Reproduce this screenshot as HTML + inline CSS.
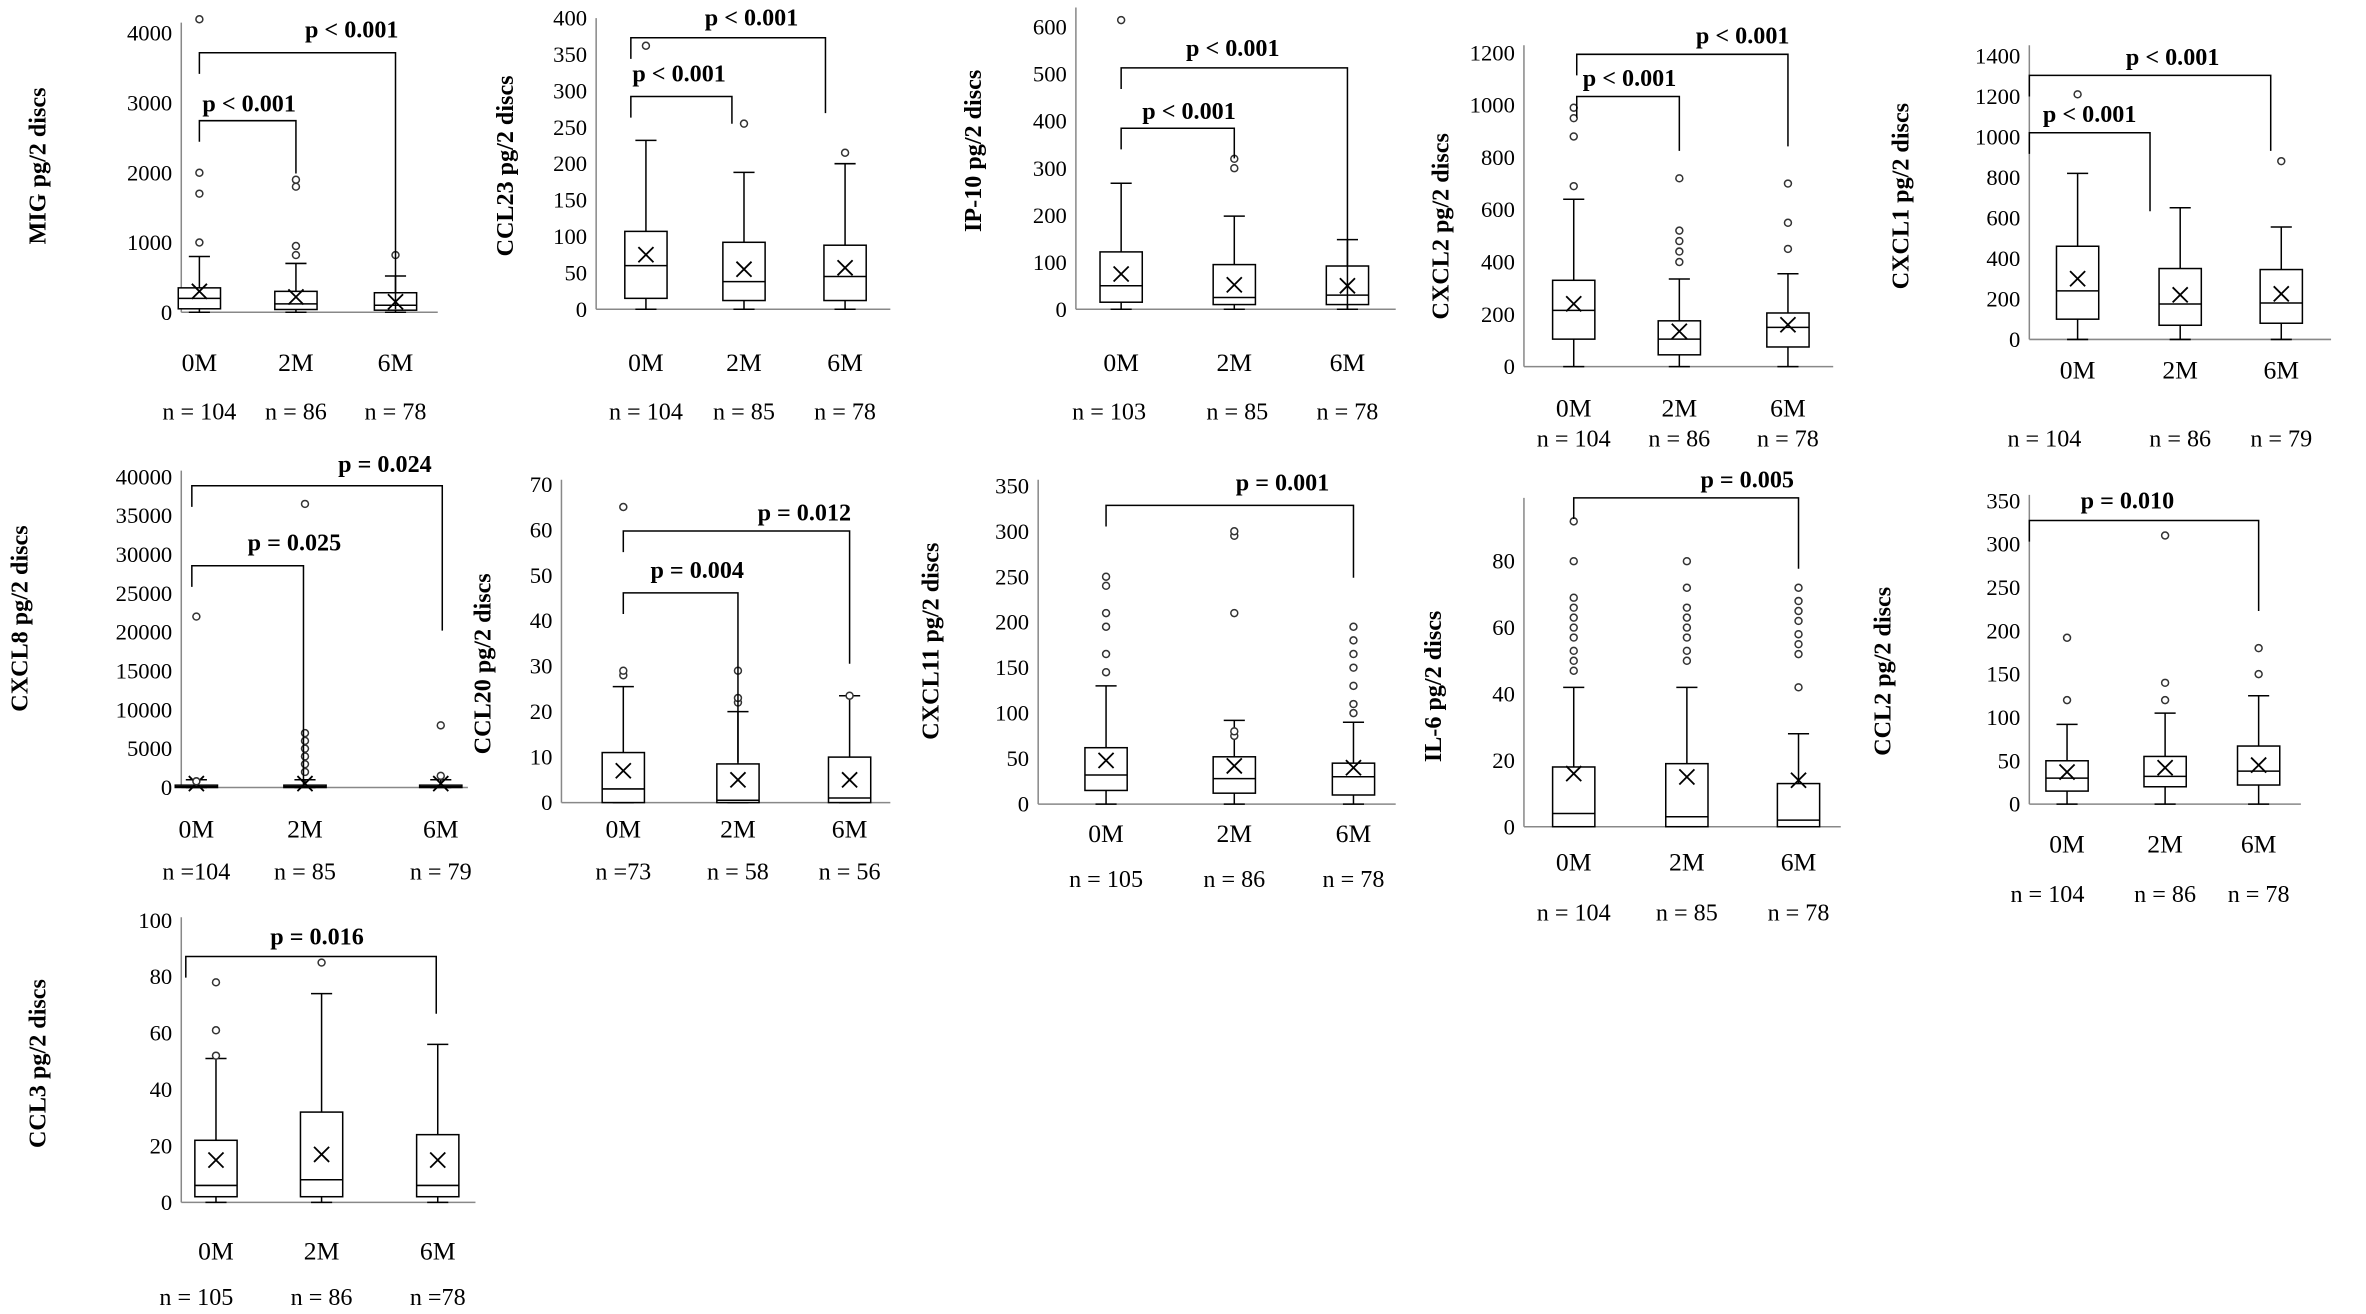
<!DOCTYPE html>
<html><head><meta charset="utf-8"><style>
html,body{margin:0;padding:0;background:#fff;}
svg{display:block;}
text{font-family:"Liberation Serif",serif;fill:#000;}
</style></head><body>
<svg id="s" width="2366" height="1314" viewBox="0 0 1568 871" xmlns="http://www.w3.org/2000/svg"></svg>
<script>
const S=document.getElementById('s');let h='';
function P(o){
 const Y=v=>o.y0-(o.y0-o.yt)*v/o.max;
 // axes
 h+=`<line x1="${o.ax}" y1="${o.top}" x2="${o.ax}" y2="${o.y0}" stroke="#888" stroke-width="1"/>`;
 h+=`<line x1="${o.ax}" y1="${o.y0}" x2="${o.axEnd}" y2="${o.y0}" stroke="#888" stroke-width="1"/>`;
 for(let v=0;v<=o.max+1e-9;v+=o.step){h+=`<text x="${o.ax-6}" y="${Y(v)+5}" font-size="15" text-anchor="end">${v}</text>`;}
 h+=`<text transform="translate(${o.lx},${o.ly}) rotate(-90)" font-size="16" font-weight="bold" text-anchor="middle">${o.label}</text>`;
 const names=['0M','2M','6M'];
 o.b.forEach((b,i)=>{const c=o.c[i],w=14;
  h+=`<line x1="${c}" y1="${Y(b[3])}" x2="${c}" y2="${Y(b[4])}" stroke="#000"/>`;
  h+=`<line x1="${c-7}" y1="${Y(b[4])}" x2="${c+7}" y2="${Y(b[4])}" stroke="#000"/>`;
  h+=`<line x1="${c-7}" y1="${Y(b[3])}" x2="${c+7}" y2="${Y(b[3])}" stroke="#000"/>`;
  h+=`<rect x="${c-w}" y="${Y(b[2])}" width="${2*w}" height="${Math.max(1,Y(b[0])-Y(b[2]))}" fill="#fff" stroke="#000"/>`;
  h+=`<line x1="${c-w}" y1="${Y(b[1])}" x2="${c+w}" y2="${Y(b[1])}" stroke="#000"/>`;
  const m=Y(b[5]);h+=`<path d="M${c-5} ${m-5}L${c+5} ${m+5}M${c+5} ${m-5}L${c-5} ${m+5}" stroke="#000" stroke-width="1.2"/>`;
  (b[6]||[]).forEach(v=>{h+=`<circle cx="${c}" cy="${Y(v)}" r="2.3" fill="#fff" stroke="#333" stroke-width="1"/>`;});
  h+=`<text x="${c}" y="${o.cy}" font-size="17" text-anchor="middle">${names[i]}</text>`;
  h+=`<text x="${o.nx?o.nx[i]:c}" y="${o.ny}" font-size="16" text-anchor="middle">${o.n[i]}</text>`;
 });
 o.br.forEach(r=>{h+=`<path d="M${r[0]} ${r[3]+14}V${r[3]}H${r[1]}V${r[2]}" fill="none" stroke="#000"/>`;
  h+=`<text x="${r[5]}" y="${r[4]}" font-size="16" font-weight="bold" text-anchor="middle">${r[6]}</text>`;});
}
// br: [x1,x2,dropY,topY,textY,textX,text]
P({ax:120,top:15,y0:207,yt:22,max:4000,step:1000,axEnd:290,c:[132,196,262],label:'MIG pg/2 discs',lx:30,ly:110,cy:246,ny:278,
 n:['n = 104','n = 86','n = 78'],
 b:[[50,200,350,0,800,300,[1000,1700,2000,4200]],[40,120,300,0,700,220,[820,950,1800,1900]],[30,100,280,0,520,150,[820]]],
 br:[[132,196,115,80,74,165,'p &lt; 0.001'],[132,262,205,35,25,233,'p &lt; 0.001']]});
P({ax:395,top:12,y0:205,yt:12,max:400,step:50,axEnd:590,c:[428,493,560],label:'CCL23 pg/2 discs',lx:340,ly:110,cy:246,ny:278,
 n:['n = 104','n = 85','n = 78'],
 b:[[15,60,107,0,232,75,[362]],[12,38,92,0,188,55,[255]],[12,45,88,0,200,57,[215]]],
 br:[[418,485,82,64,54,450,'p &lt; 0.001'],[418,547,75,25,17,498,'p &lt; 0.001']]});
P({ax:713,top:5,y0:205,yt:18,max:600,step:100,axEnd:925,c:[743,818,893],label:'IP-10 pg/2 discs',lx:650,ly:100,cy:246,ny:278,
 nx:[735,820,893],n:['n = 103','n = 85','n = 78'],
 b:[[15,50,122,0,268,75,[615]],[10,25,95,0,198,52,[300,320]],[10,30,92,0,148,50,[]]],
 br:[[743,818,105,85,79,788,'p &lt; 0.001'],[743,893,205,45,37,817,'p &lt; 0.001']]});
P({ax:1010,top:30,y0:243,yt:35,max:1200,step:200,axEnd:1215,c:[1043,1113,1185],label:'CXCL2 pg/2 discs',lx:960,ly:150,cy:276,ny:296,
 n:['n = 104','n = 86','n = 78'],
 b:[[105,215,330,0,640,240,[690,880,950,990]],[45,105,175,0,335,135,[400,440,480,520,720]],[75,150,205,0,355,160,[450,550,700]]],
 br:[[1045,1113,100,64,57,1080,'p &lt; 0.001'],[1045,1185,97,36,29,1155,'p &lt; 0.001']]});
P({ax:1345,top:30,y0:225,yt:37,max:1400,step:200,axEnd:1545,c:[1377,1445,1512],label:'CXCL1 pg/2 discs',lx:1265,ly:130,cy:251,ny:296,
 nx:[1355,1445,1512],n:['n = 104','n = 86','n = 79'],
 b:[[100,240,460,0,820,300,[1210]],[70,175,350,0,650,220,[]],[80,180,345,0,555,225,[880]]],
 br:[[1345,1425,140,88,81,1385,'p &lt; 0.001'],[1345,1505,100,50,43,1440,'p &lt; 0.001']]});
P({ax:120,top:312,y0:522,yt:316,max:40000,step:5000,axEnd:310,c:[130,202,292],label:'CXCL8 pg/2 discs',lx:18,ly:410,cy:555,ny:583,
 n:['n =104','n = 85','n = 79'],
 b:[[0,100,300,0,1000,500,[800,22000]],[0,100,300,0,1000,500,[2000,3000,4000,5000,6000,7000,36500]],[0,100,300,0,1000,500,[1500,8000]]],
 br:[[127,201,520,375,365,195,'p = 0.025'],[127,293,418,322,313,255,'p = 0.024']]});
P({ax:372,top:318,y0:532,yt:321,max:70,step:10,axEnd:590,c:[413,489,563],label:'CCL20 pg/2 discs',lx:325,ly:440,cy:555,ny:583,
 n:['n =73','n = 58','n = 56'],
 b:[[0,3,11,0,25.5,7,[28,29,65]],[0,0.5,8.5,0,20,5,[22,23,29]],[0,1,10,0,23.5,5,[23.5]]],
 br:[[413,489,505,393,383,462,'p = 0.004'],[413,563,440,352,345,533,'p = 0.012']]});
P({ax:688,top:318,y0:533,yt:322,max:350,step:50,axEnd:925,c:[733,818,897],label:'CXCL11 pg/2 discs',lx:622,ly:425,cy:558,ny:588,
 n:['n = 105','n =  86','n = 78'],
 b:[[15,32,62,0,130,48,[145,165,195,210,240,250]],[12,28,52,0,92,42,[75,80,210,295,300]],[10,30,45,0,90,40,[100,110,130,150,165,180,195]]],
 br:[[733,897,383,335,325,850,'p = 0.001']]});
P({ax:1010,top:330,y0:548,yt:372,max:80,step:20,axEnd:1220,c:[1043,1118,1192],label:'IL-6 pg/2 discs',lx:955,ly:455,cy:577,ny:610,
 n:['n = 104','n = 85','n = 78'],
 b:[[0,4,18,0,42,16,[47,50,53,57,60,63,66,69,80,92]],[0,3,19,0,42,15,[50,53,57,60,63,66,72,80]],[0,2,13,0,28,14,[42,52,55,58,62,65,68,72]]],
 br:[[1043,1192,377,330,323,1158,'p = 0.005']]});
P({ax:1345,top:328,y0:533,yt:332,max:350,step:50,axEnd:1525,c:[1370,1435,1497],label:'CCL2 pg/2 discs',lx:1253,ly:445,cy:565,ny:598,
 nx:[1357,1435,1497],n:['n = 104','n = 86','n = 78'],
 b:[[15,30,50,0,92,37,[120,192]],[20,32,55,0,105,42,[120,140,310]],[22,38,67,0,125,45,[150,180]]],
 br:[[1345,1497,405,345,337,1410,'p = 0.010']]});
P({ax:120,top:608,y0:797,yt:610,max:100,step:20,axEnd:315,c:[143,213,290],label:'CCL3 pg/2 discs',lx:30,ly:705,cy:835,ny:865,
 nx:[130,213,290],n:['n = 105','n = 86','n =78'],
 b:[[2,6,22,0,51,15,[52,61,78]],[2,8,32,0,74,17,[85]],[2,6,24,0,56,15,[]]],
 br:[[123,289,672,634,626,210,'p = 0.016']]});
S.innerHTML=h;
</script>
</body></html>
